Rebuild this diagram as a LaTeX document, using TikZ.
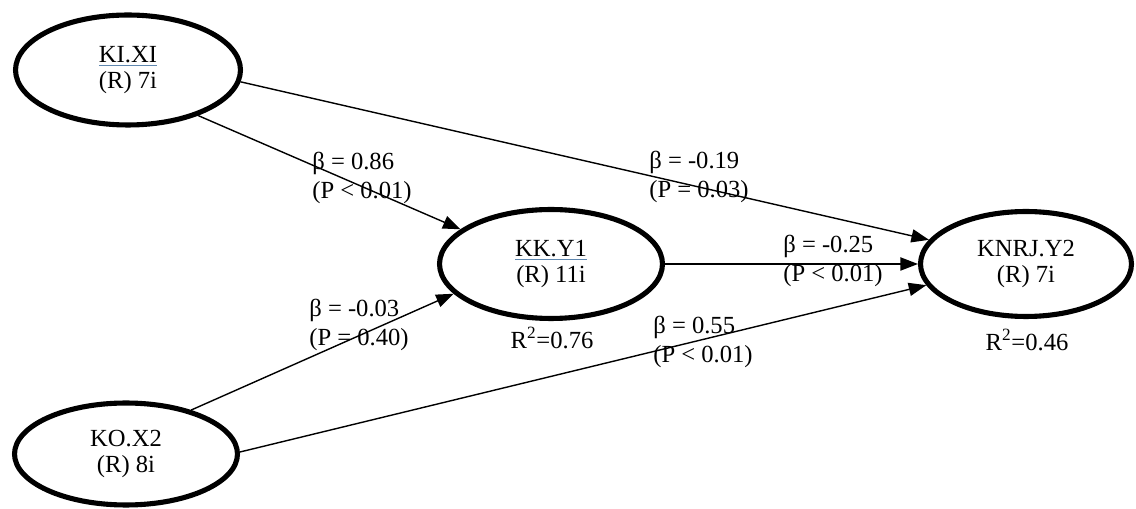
\documentclass[tikz,border=0pt]{standalone}
\usepackage{fontspec}
\setmainfont{Liberation Serif}
\usetikzlibrary{arrows.meta,shapes.geometric}
\definecolor{markblue}{RGB}{95,135,175}
\newcommand{\spellmark}[1]{\textcolor{markblue}{\underline{\textcolor{black}{#1}}}}
\tikzset{
	latent/.style={draw,ellipse,line width=2.9pt,align=center,inner sep=0pt,font=\fontsize{14}{14.5}\selectfont},
	pth/.style={-{Triangle[length=10pt,width=7.5pt]},line width=0.8pt},
	coef/.style={align=left,anchor=west,inner sep=0pt,font=\fontsize{14}{17}\selectfont}
}
\begin{document}
\begin{tikzpicture}[x=0.02cm,y=-0.02cm]
	\useasboundingbox (0,0) rectangle (1136,509);
	% latent variables
	\node[latent,minimum width=4.5cm,minimum height=2.2cm] (ki) at (128,70) {\spellmark{KI.XI}\\(R) 7i};
	\node[latent,minimum width=4.46cm,minimum height=2.18cm] (kk) at (551,264) {\spellmark{KK.Y1}\\(R) 11i};
	\node[latent,minimum width=4.22cm,minimum height=2.1cm] (knrj) at (1026,264) {KNRJ.Y2\\(R) 7i};
	\node[latent,minimum width=4.46cm,minimum height=2.04cm] (ko) at (126,454) {KO.X2\\(R) 8i};
	% paths
	\draw[pth] (ki.-6) -- (knrj.166);
	\draw[pth] (ki.-33) -- (kk.159);
	\draw[pth] (kk.east) -- (knrj.west);
	\draw[pth] (ko.34) -- (kk.197);
	\draw[pth] (ko.1) -- (knrj.192);
	% coefficients
	\node[coef] (c1) at (312,178) {β = 0.86\\(P < 0.01)};
	\node[coef] (c2) at (649,177) {β = -0.19\\(P = 0.03)};
	\node[coef] (c3) at (783,261) {β = -0.25\\(P < 0.01)};
	\node[coef] (c4) at (309,325) {β = -0.03\\(P = 0.40)};
	\node[coef] (c5) at (653,342) {β = 0.55\\(P < 0.01)};
	\node[coef,anchor=center] (r1) at (552,338) {R\textsuperscript{2}=0.76};
	\node[coef,anchor=center] (r2) at (1027,340) {R\textsuperscript{2}=0.46};
\end{tikzpicture}
\end{document}
